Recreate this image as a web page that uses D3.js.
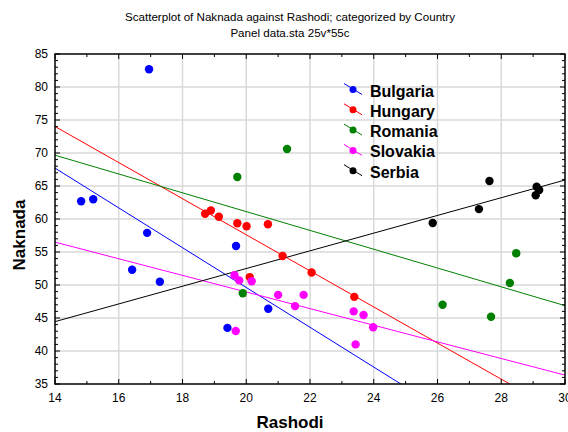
<!DOCTYPE html>
<html><head><meta charset="utf-8">
<script src="https://cdn.jsdelivr.net/npm/d3@7"></script>
<style>body{margin:0;background:#fff}svg{display:block}text{font-family:"Liberation Sans",Arial,sans-serif}</style>
</head><body><svg id="c" width="568" height="432"></svg>
<script>
const countries = ["Bulgaria","Hungary","Romania","Slovakia","Serbia"];
const colors = ["#0000ff","#ff0000","#008000","#ff00ff","#000000"];
const bulgariaX = [14.82,15.2,16.89,16.95,16.42,17.29,19.68,19.41,20.69];
const bulgariaY = [62.7,63.0,57.9,82.7,52.3,50.5,55.9,43.5,46.4];
const hungaryX = [18.71,18.89,19.14,19.72,20.01,20.68,21.14,20.11,22.05,23.39];
const hungaryY = [60.8,61.3,60.35,59.35,58.9,59.2,54.4,51.2,51.9,48.2];
const romaniaX = [19.72,21.28,19.89,28.47,28.27,26.16,27.68];
const romaniaY = [66.36,70.6,48.74,54.8,50.3,47.0,45.2];
const slovakiaX = [19.63,19.78,20.17,21.0,21.8,21.53,19.67,23.37,23.68,23.98,23.43];
const slovakiaY = [51.47,50.7,50.56,48.5,48.5,46.8,43.03,46.0,45.45,43.6,41.0];
const serbiaX = [27.63,29.11,29.19,29.08,27.3,25.85];
const serbiaY = [65.76,64.9,64.4,63.6,61.5,59.4];
const xTicks = [14,16,18,20,22,24,26,28,30];
const yTicks = [35,40,45,50,55,60,65,70,75,80,85];

const seriesX = [bulgariaX,hungaryX,romaniaX,slovakiaX,serbiaX];
const seriesY = [bulgariaY,hungaryY,romaniaY,slovakiaY,serbiaY];

const L=55,R=565,T=54,B=384;
const svg=d3.select("#c");
const x=d3.scaleLinear().domain([14,30]).range([L,R]);
const y=d3.scaleLinear().domain([35,85]).range([B,T]);

svg.append("defs").append("clipPath").attr("id","clip").append("rect")
  .attr("x",L).attr("y",T).attr("width",R-L).attr("height",B-T);

// grid
const g=svg.append("g");
g.selectAll(".gx").data(xTicks.slice(1,-1)).join("line")
  .attr("x1",d=>x(d)).attr("x2",d=>x(d)).attr("y1",T).attr("y2",B)
  .attr("stroke","#d9d9d9").attr("stroke-width",1.5);
g.selectAll(".gy").data(yTicks.slice(1,-1)).join("line")
  .attr("y1",d=>y(d)).attr("y2",d=>y(d)).attr("x1",L).attr("x2",R)
  .attr("stroke","#d9d9d9").attr("stroke-width",1.5);

// regression lines
const pl=svg.append("g").attr("clip-path","url(#clip)");
countries.forEach((c,i)=>{
  const xs=seriesX[i], ys=seriesY[i];
  const mx=d3.mean(xs), my=d3.mean(ys);
  let sxy=0,sxx=0;
  xs.forEach((v,k)=>{sxy+=(v-mx)*(ys[k]-my);sxx+=(v-mx)*(v-mx);});
  const b=sxy/sxx, a=my-b*mx;
  pl.append("line").attr("x1",x(14)).attr("y1",y(a+b*14)).attr("x2",x(30)).attr("y2",y(a+b*30))
    .attr("stroke",colors[i]).attr("stroke-width",1);
});
// points
countries.forEach((c,i)=>{
  pl.selectAll(null).data(seriesX[i].map((v,k)=>[v,seriesY[i][k]])).join("circle")
    .attr("cx",d=>x(d[0])).attr("cy",d=>y(d[1])).attr("r",4.2).attr("fill",colors[i]);
});

// axes frame
const ax=svg.append("g").attr("stroke","#000");
ax.append("rect").attr("x",L).attr("y",T).attr("width",R-L).attr("height",B-T)
  .attr("fill","none").attr("stroke-width",1.5);
const xMinor=d3.range(14,31,1), yMinor=d3.range(35,86,1);
xMinor.forEach(v=>{
  const len = v%2===0?5:3;
  ax.append("line").attr("x1",x(v)).attr("x2",x(v)).attr("y1",B).attr("y2",B-len).attr("stroke-width",1);
  ax.append("line").attr("x1",x(v)).attr("x2",x(v)).attr("y1",T).attr("y2",T+len).attr("stroke-width",1);
});
yMinor.forEach(v=>{
  const len = v%5===0?5:3;
  ax.append("line").attr("y1",y(v)).attr("y2",y(v)).attr("x1",L).attr("x2",L+len).attr("stroke-width",1);
  ax.append("line").attr("y1",y(v)).attr("y2",y(v)).attr("x1",R).attr("x2",R-len).attr("stroke-width",1);
});
svg.selectAll(".xl").data(xTicks).join("text").attr("x",d=>x(d)).attr("y",B+18)
  .attr("text-anchor","middle").attr("font-size",12).text(d=>d);
svg.selectAll(".yl").data(yTicks).join("text").attr("x",L-7).attr("y",d=>y(d)+4)
  .attr("text-anchor","end").attr("font-size",12).text(d=>d);

// titles
svg.append("text").attr("x",290).attr("y",21).attr("text-anchor","middle").attr("font-size",11.6)
  .text("Scatterplot of Naknada against Rashodi; categorized by Country");
svg.append("text").attr("x",290).attr("y",37).attr("text-anchor","middle").attr("font-size",11.6)
  .text("Panel data.sta 25v*55c");
svg.append("text").attr("x",290).attr("y",428).attr("text-anchor","middle").attr("font-size",17)
  .attr("font-weight","bold").text("Rashodi");
svg.append("text").attr("transform","translate(25,235) rotate(-90)").attr("text-anchor","middle")
  .attr("font-size",17).attr("font-weight","bold").text("Naknada");

// legend
const lg=svg.append("g");
countries.forEach((c,i)=>{
  const cy=90.5+i*20.3;
  lg.append("line").attr("x1",344).attr("y1",cy-7).attr("x2",362).attr("y2",cy+4)
    .attr("stroke",colors[i]).attr("stroke-width",1);
  lg.append("circle").attr("cx",353).attr("cy",cy-1).attr("r",3.5).attr("fill",colors[i]);
  lg.append("text").attr("x",370).attr("y",cy+6).attr("font-size",16).attr("font-weight","bold").text(c);
});
</script></body></html>
